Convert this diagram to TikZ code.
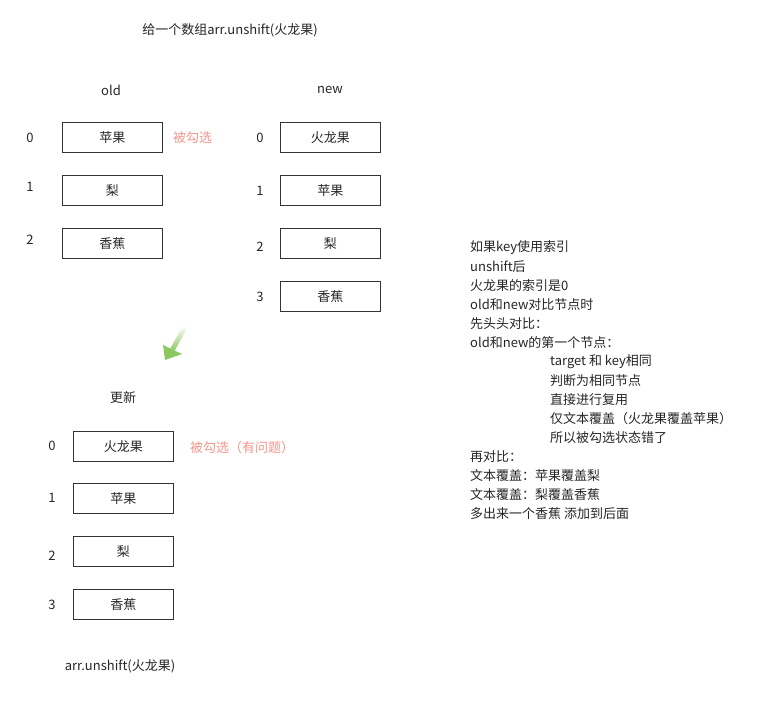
\documentclass[tikz,border=0pt]{standalone}
\usepackage{fontspec}
\setmainfont{Noto Sans CJK SC}
\definecolor{selred}{RGB}{246,150,140}
\definecolor{arrgreen}{RGB}{140,200,95}
\begin{document}
\begin{tikzpicture}[x=1pt,y=-1pt,
  every node/.style={font=\fontsize{13}{19}\selectfont, text=black!85, inner sep=0pt},
  item/.style={draw=black!80, line width=0.9pt, minimum width=100pt, minimum height=30pt, anchor=north west},
  idx/.style={},
  selmark/.style={text=selred, anchor=west},
  note/.style={anchor=west}]
\useasboundingbox (0,0) rectangle (758,705);
\fill[white] (0,0) rectangle (758,705);
% title
\node (title) at (230,30) {给一个数组arr.unshift(火龙果)};
% old
\node (oldlbl) at (111,90) {old};
\node[item] (o0) at (62,122) {苹果};
\node[item] (o1) at (62,175) {梨};
\node[item] (o2) at (62,228) {香蕉};
\node[idx] (oi0) at (30,138) {0};
\node[idx] (oi1) at (30,187) {1};
\node[idx] (oi2) at (30,240) {2};
\node[selmark] (osel) at (173,138) {被勾选};
% new
\node (newlbl) at (330,90) {new};
\node[item] (n0) at (280,122) {火龙果};
\node[item] (n1) at (280,175) {苹果};
\node[item] (n2) at (280,228) {梨};
\node[item] (n3) at (280,281) {香蕉};
\node[idx] (ni0) at (260,138) {0};
\node[idx] (ni1) at (260,191) {1};
\node[idx] (ni2) at (260,247) {2};
\node[idx] (ni3) at (260,297) {3};
% arrow
\shade[top color=white, bottom color=arrgreen]
  (187,328.4) -- (183,325.6) -- (170.5,348.1) -- (174.5,350.9) -- cycle;
\fill[arrgreen] (163,345) -- (182,354) -- (165,360) -- cycle;
% update
\node (updlbl) at (123,398) {更新};
\node[item] (u0) at (73,431) {火龙果};
\node[item] (u1) at (73,483) {苹果};
\node[item] (u2) at (73,536) {梨};
\node[item] (u3) at (73,589) {香蕉};
\node[idx] (ui0) at (52,446) {0};
\node[idx] (ui1) at (52,498) {1};
\node[idx] (ui2) at (52,556) {2};
\node[idx] (ui3) at (52,605) {3};
\node[selmark] (usel) at (190,448) {被勾选（有问题）};
\node (bottom) at (120,666) {arr.unshift(火龙果)};
% notes
\node[note] (t1) at (470,248) {如果key使用索引};
\node[note] (t2) at (470,267) {unshift后};
\node[note] (t3) at (470,286) {火龙果的索引是0};
\node[note] (t4) at (470,305) {old和new对比节点时};
\node[note] (t5) at (470,324) {先头头对比：};
\node[note] (t6) at (470,343) {old和new的第一个节点：};
\node[note] (t7) at (550,362) {target 和 key相同};
\node[note] (t8) at (550,381) {判断为相同节点};
\node[note] (t9) at (550,400) {直接进行复用};
\node[note] (t10) at (550,419) {仅文本覆盖（火龙果覆盖苹果）};
\node[note] (t11) at (550,438) {所以被勾选状态错了};
\node[note] (t12) at (470,457) {再对比：};
\node[note] (t13) at (470,476) {文本覆盖：苹果覆盖梨};
\node[note] (t14) at (470,495) {文本覆盖：梨覆盖香蕉};
\node[note] (t15) at (470,514) {多出来一个香蕉 添加到后面};
\end{tikzpicture}
\end{document}
